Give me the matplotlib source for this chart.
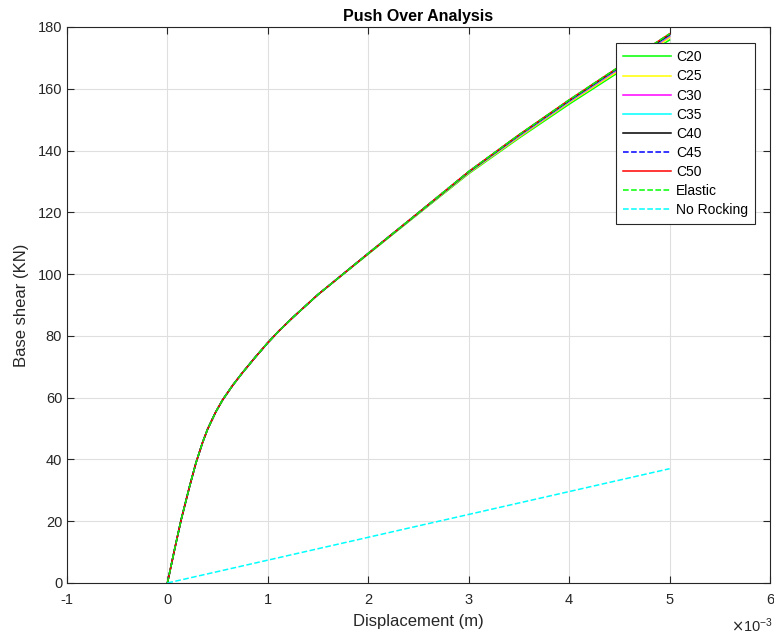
import numpy as np
import matplotlib
matplotlib.use("Agg")
import matplotlib.pyplot as plt

plt.rcParams["font.family"] = ["Liberation Sans", "DejaVu Sans"]
plt.rcParams["axes.unicode_minus"] = False

# displacement in mm, converted to m when plotted
disp_mm = [0, 0.07, 0.136, 0.22, 0.285, 0.35, 0.40, 0.48, 0.55, 0.65, 0.75,
           0.88, 1.0, 1.11, 1.25, 1.5, 2.0, 2.41, 3.0, 3.5, 4.0, 4.5, 5.0]

# base shear (kN) for each concrete grade
shear_c20 = [0, 10.7, 20.4, 31.2, 39.0, 45.5, 49.8, 55.3, 59.3, 64.0, 68.2,
             73.3, 77.8, 81.6, 86.0, 93.4, 106.5, 117.2, 132.5, 144.0, 155.0, 165.5, 175.8]
shear_c25 = [0, 10.7, 20.4, 31.2, 39.0, 45.5, 49.8, 55.3, 59.3, 64.0, 68.2,
             73.3, 77.8, 81.6, 86.0, 93.4, 106.6, 117.3, 132.7, 144.3, 155.5, 166.0, 176.5]
shear_c30 = [0, 10.7, 20.4, 31.2, 39.0, 45.5, 49.8, 55.3, 59.3, 64.0, 68.2,
             73.3, 77.8, 81.6, 86.0, 93.4, 106.7, 117.4, 132.9, 144.6, 155.8, 166.5, 177.0]
shear_c35 = [0, 10.7, 20.4, 31.2, 39.0, 45.5, 49.8, 55.3, 59.3, 64.0, 68.2,
             73.3, 77.8, 81.6, 86.0, 93.4, 106.7, 117.4, 133.0, 144.8, 156.0, 166.8, 177.3]
shear_c40 = [0, 10.7, 20.4, 31.2, 39.0, 45.5, 49.8, 55.3, 59.3, 64.0, 68.2,
             73.3, 77.8, 81.6, 86.0, 93.4, 106.7, 117.5, 133.1, 145.0, 156.2, 167.0, 177.5]
shear_c45 = [0, 10.7, 20.4, 31.2, 39.0, 45.5, 49.8, 55.3, 59.3, 64.0, 68.2,
             73.3, 77.8, 81.6, 86.0, 93.4, 106.7, 117.5, 133.2, 145.0, 156.3, 167.1, 177.7]
shear_c50 = [0, 10.7, 20.4, 31.2, 39.0, 45.5, 49.8, 55.3, 59.3, 64.0, 68.2,
             73.3, 77.8, 81.6, 86.0, 93.4, 106.7, 117.5, 133.2, 145.1, 156.4, 167.2, 177.8]
shear_elastic = [0, 10.7, 20.4, 31.2, 39.0, 45.5, 49.8, 55.3, 59.3, 64.0, 68.2,
                 73.3, 77.8, 81.6, 86.0, 93.4, 106.7, 117.5, 133.2, 145.1, 156.4, 167.2, 177.8]

# fixed-base (no rocking) response
norock_disp_mm = [0, 5.0]
norock_shear = [0, 37]

xtick_mm = [-1, 0, 1, 2, 3, 4, 5, 6]
xtick_labels = ["-1", "0", "1", "2", "3", "4", "5", "6"]

series = [
    ("C20", shear_c20, "#00ff00", "-"),
    ("C25", shear_c25, "#ffff00", "-"),
    ("C30", shear_c30, "#ff00ff", "-"),
    ("C35", shear_c35, "#00ffff", "-"),
    ("C40", shear_c40, "#000000", "-"),
    ("C45", shear_c45, "#0000ff", "--"),
    ("C50", shear_c50, "#ff0000", "-"),
    ("Elastic", shear_elastic, "#00ff00", "--"),
]

axcol = "#262626"
fig = plt.figure(figsize=(7.74, 6.35), dpi=100)
ax = fig.add_axes([67 / 774, 52 / 635, 703 / 774, 556 / 635])

x = np.array(disp_mm) * 1e-3
for name, y, col, ls in series:
    ax.plot(x, y, color=col, ls=ls, lw=1.1, label=name)
ax.plot(np.array(norock_disp_mm) * 1e-3, norock_shear, color="#00ffff",
        ls="--", lw=1.1, label="No Rocking")

ax.set_xlim(-1e-3, 6e-3)
ax.set_ylim(0, 180)
ax.set_xticks(np.array(xtick_mm) * 1e-3, xtick_labels)
ax.set_yticks(np.arange(0, 181, 20))
# exponent shown separately, like an axis offset label
ax.annotate(r"$\times\mathdefault{10^{-3}}$", xy=(1, 0), xycoords="axes fraction",
            xytext=(2, -24), textcoords="offset points", ha="right", va="top",
            fontsize=10.5, color=axcol)

ax.grid(True, color="#dfdfdf", lw=0.8)
ax.set_axisbelow(True)
ax.tick_params(direction="in", top=True, right=True, length=5, width=0.8,
               colors=axcol, labelsize=10.5, labelcolor=axcol)
ax.tick_params(axis="x", pad=7)
for sp in ax.spines.values():
    sp.set_color(axcol)
    sp.set_linewidth(0.8)

ax.set_xlabel("Displacement (m)", fontsize=12, color=axcol, labelpad=5)
ax.set_ylabel("Base shear (KN)", fontsize=12, color=axcol, labelpad=6)
ax.set_title("Push Over Analysis", fontsize=11.5, fontweight="bold", pad=4)

leg = ax.legend(loc="upper right", bbox_to_anchor=(0.9787, 0.9707), fontsize=10,
                frameon=True, fancybox=False, edgecolor=axcol, framealpha=1,
                handlelength=3.45, labelspacing=0.37, handletextpad=0.4,
                borderpad=0.5, borderaxespad=0)
leg.get_frame().set_linewidth(0.8)

fig.savefig("out.png", dpi=100)
